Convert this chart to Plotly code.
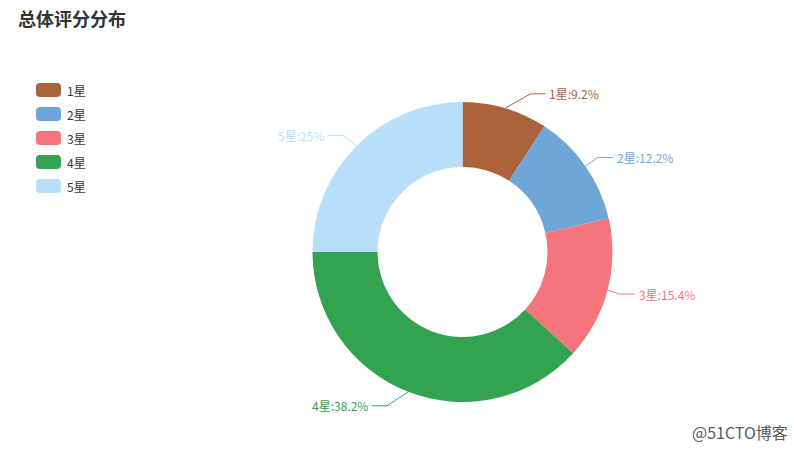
import math
import plotly.graph_objects as go

# ---- data ----
categories = ["1星", "2星", "3星", "4星", "5星"]
values = [9.2, 12.2, 15.4, 38.2, 25.0]
colors = ["#aa633b", "#6ea6d8", "#f4757c", "#34a351", "#b7dff9"]
title_text = "总体评分分布"
watermark = "@51CTO博客"

# ---- layout constants (pixels) ----
W, H = 794, 449
CX, CY = 462.5, 252.0
R_OUT, R_IN = 150.0, 85.0
L1, L2 = 15.0, 15.0
FONT = "Noto Sans CJK SC, Microsoft YaHei, sans-serif"

fig = go.Figure()

fig.add_trace(go.Pie(
    labels=categories, values=values, sort=False, direction="clockwise",
    rotation=0, hole=R_IN / R_OUT,
    marker=dict(colors=colors, line=dict(width=0)),
    textinfo="none", hoverinfo="label+percent", showlegend=False,
    domain=dict(x=[(CX - R_OUT) / W, (CX + R_OUT) / W],
                y=[(H - (CY + R_OUT)) / H, (H - (CY - R_OUT)) / H]),
))

# ---- echarts-like outside label layout ----
total = sum(values)
labels = []
cum = 0.0
for name, v, c in zip(categories, values, colors):
    mid = (cum + v / 2) / total * 2 * math.pi
    cum += v
    dx, dy = math.sin(mid), -math.cos(mid)
    x1, y1 = CX + R_OUT * dx, CY + R_OUT * dy
    ty = CY + (R_OUT + L1) * dy
    d = 1 if dx >= 0 else -1
    pct = v / total * 100
    labels.append(dict(name=name, color=c, x1=x1, y1=y1, y=ty, dir=d,
                       text=f"{name}:{round(pct, 1):g}%"))

for d in (1, -1):
    side = sorted([l for l in labels if l["dir"] == d], key=lambda l: l["y"])
    up = [l for l in side if l["y"] < CY]
    down = [l for l in side if l["y"] >= CY]
    for lst, is_down in ((up, False), (down, True)):
        last = float("inf") if is_down else 0.0
        for l in lst:
            dyy = abs(l["y"] - CY)
            rr = R_OUT + L1 + L2
            if dyy < R_OUT + L1:
                dxx = math.sqrt(rr * rr - dyy * dyy)
            else:
                dxx = abs(l["x1"] - CX)
            if is_down and dxx >= last:
                dxx = last - 10
            if (not is_down) and dxx <= last:
                dxx = last + 10
            l["x"] = CX + dxx * d
            last = dxx

annotations = []
for l in labels:
    d = l["dir"]
    xe = l["x"] - 3 * d
    xb = xe - L2 * d
    fig.add_trace(go.Scatter(
        x=[l["x1"], xb, xe], y=[l["y1"], l["y"], l["y"]], mode="lines",
        line=dict(color=l["color"], width=1), hoverinfo="skip", showlegend=False))
    annotations.append(dict(
        x=l["x"], y=l["y"], xref="x", yref="y", text=l["text"], showarrow=False,
        xanchor="left" if d > 0 else "right", yanchor="middle", borderpad=0,
        font=dict(family=FONT, size=12, color=l["color"])))

# ---- custom legend ----
shapes = []
LX, LY0, LSTEP, LW, LH, RAD = 36, 90, 24, 25, 14, 4
for i, (name, c) in enumerate(zip(categories, colors)):
    yc = LY0 + i * LSTEP
    x0, x1 = LX, LX + LW
    y0, y1 = yc - LH / 2, yc + LH / 2
    path = (f"M {x0+RAD},{y0} L {x1-RAD},{y0} Q {x1},{y0} {x1},{y0+RAD} "
            f"L {x1},{y1-RAD} Q {x1},{y1} {x1-RAD},{y1} L {x0+RAD},{y1} "
            f"Q {x0},{y1} {x0},{y1-RAD} L {x0},{y0+RAD} Q {x0},{y0} {x0+RAD},{y0} Z")
    shapes.append(dict(type="path", path=path, xref="x", yref="y",
                       fillcolor=c, line=dict(width=0)))
    annotations.append(dict(
        x=LX + LW + 5, y=yc, xref="x", yref="y", text=name, showarrow=False,
        xanchor="left", yanchor="middle", borderpad=0,
        font=dict(family=FONT, size=12, color="#333333")))

# title
annotations.append(dict(
    x=17, y=18, xref="x", yref="y", text=f"<b>{title_text}</b>", showarrow=False,
    xanchor="left", yanchor="middle", borderpad=0,
    font=dict(family=FONT, size=18, color="#333333")))
# watermark
annotations.append(dict(
    x=789, y=432, xref="x", yref="y", text=watermark, showarrow=False,
    xanchor="right", yanchor="middle", borderpad=0,
    font=dict(family=FONT, size=16, color="#5a5a5a")))

fig.update_layout(
    width=W, height=H, margin=dict(l=0, r=0, t=0, b=0),
    paper_bgcolor="white", plot_bgcolor="white", showlegend=False,
    xaxis=dict(range=[0, W], visible=False, fixedrange=True, domain=[0, 1]),
    yaxis=dict(range=[H, 0], visible=False, fixedrange=True, domain=[0, 1]),
    annotations=annotations, shapes=shapes,
)

fig.write_html(
    "out.html",
    config={"displayModeBar": False},
    post_script="document.body.style.margin='0';document.body.style.overflow='hidden';",
)
